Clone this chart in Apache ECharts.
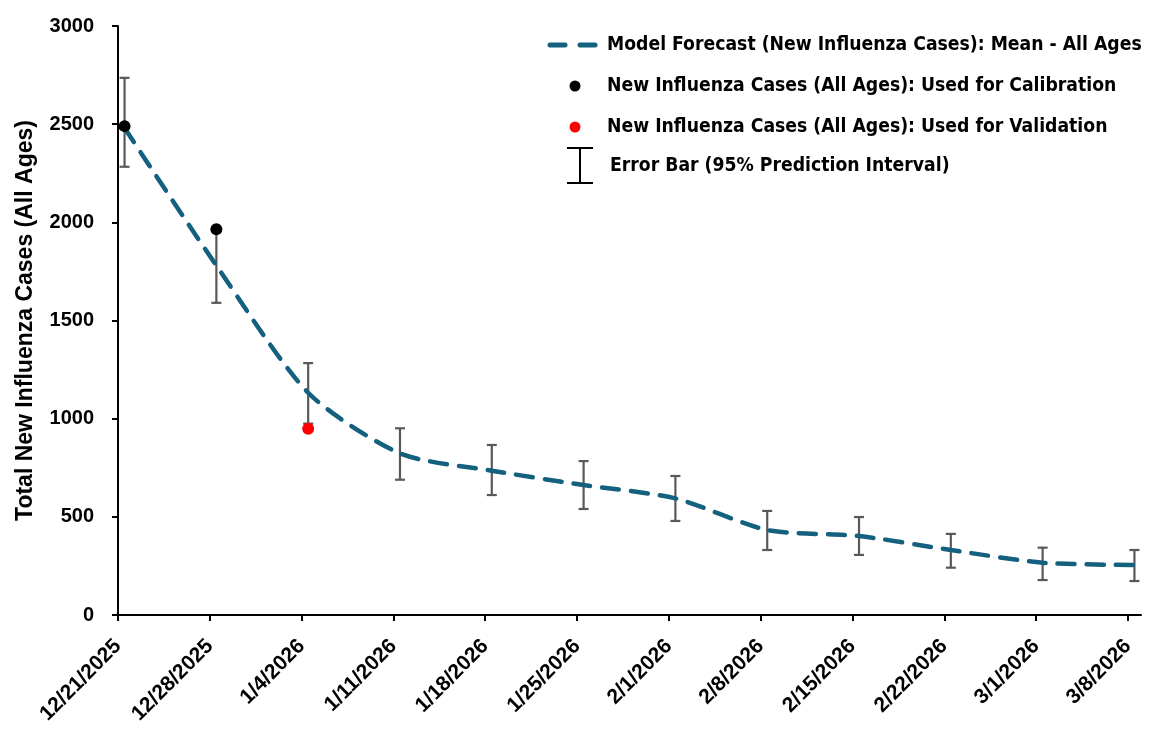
<!DOCTYPE html>
<html>
<head>
<meta charset="utf-8">
<script src="https://cdn.jsdelivr.net/npm/echarts@6/dist/echarts.min.js"></script>
<style>
html,body{margin:0;padding:0;background:#fff;}
#chart{width:1167px;height:736px;}
</style>
</head>
<body>
<div id="chart"></div>
<script>
// ---- data ----
var weekLabels = ['12/21/2025','12/28/2025','1/4/2026','1/11/2026','1/18/2026','1/25/2026','2/1/2026','2/8/2026','2/15/2026','2/22/2026','3/1/2026','3/8/2026'];
var meanForecast = [2480, 1780, 1132, 823, 735, 662, 594, 433, 402, 331, 266, 255];
var upperPI      = [2736, 1960, 1283, 951, 866, 784, 708, 530, 499, 413, 343, 331];
var lowerPI      = [2283, 1590, 975, 689, 611, 540, 479, 331, 306, 241, 178, 173];
var calibrationIdx = [0, 1];
var calibrationVals = [2490, 1965];
var validationIdx = [2];
var validationVals = [949];
var yTicks = [0, 500, 1000, 1500, 2000, 2500, 3000];

// day positions: weekly dates, each point centred in its day slot
var DAYS_PER_WEEK = 7, SLOT_CENTER = 0.5;
function dayPos(i){ return i * DAYS_PER_WEEK + SLOT_CENTER; }
var tickDays = weekLabels.map(function(_, i){ return i * DAYS_PER_WEEK; });

var meanData = meanForecast.map(function(v, i){ return [dayPos(i), v]; });
var errData = upperPI.map(function(v, i){ return [dayPos(i), lowerPI[i], v]; });
var calData = calibrationVals.map(function(v, k){ return [dayPos(calibrationIdx[k]), v]; });
var valData = validationVals.map(function(v, k){ return [dayPos(validationIdx[k]), v]; });

var LINE_COLOR = '#14607f';
var ERR_COLOR = '#595959';
var FONT = '"Liberation Sans", Arial, sans-serif';
var LEG_FONT = '"DejaVu Sans Condensed", "DejaVu Sans", sans-serif';

var chart = echarts.init(document.getElementById('chart'), null, {renderer: 'canvas'});

var legX = 607;
var legendItems = [
  {y: 45, text: 'Model Forecast (New Influenza Cases): Mean - All Ages'},
  {y: 86, text: 'New Influenza Cases (All Ages): Used for Calibration'},
  {y: 127, text: 'New Influenza Cases (All Ages): Used for Validation'},
  {y: 166, text: 'Error Bar (95% Prediction Interval)', x: 610}
];
var graphics = legendItems.map(function(it){
  return {type: 'text', x: it.x || legX, y: it.y, scaleX: 0.96,
    style: {text: it.text, font: 'bold 20px ' + LEG_FONT, fill: '#000', verticalAlign: 'middle', align: 'left'}};
});
graphics.push({type:'line', shape:{x1:550,y1:45,x2:565,y2:45}, style:{stroke:LINE_COLOR,lineWidth:5,lineCap:'round'}});
graphics.push({type:'line', shape:{x1:580,y1:45,x2:595,y2:45}, style:{stroke:LINE_COLOR,lineWidth:5,lineCap:'round'}});
graphics.push({type:'circle', shape:{cx:575,cy:86,r:5.5}, style:{fill:'#000'}});
graphics.push({type:'circle', shape:{cx:575,cy:127,r:5.5}, style:{fill:'#ff0000'}});
graphics.push({type:'line', shape:{x1:580,y1:148,x2:580,y2:183}, style:{stroke:'#000',lineWidth:2}});
graphics.push({type:'line', shape:{x1:567,y1:148,x2:593,y2:148}, style:{stroke:'#000',lineWidth:2}});
graphics.push({type:'line', shape:{x1:567,y1:183,x2:593,y2:183}, style:{stroke:'#000',lineWidth:2}});

var option = {
  backgroundColor: '#fff',
  animation: false,
  grid: {left: 118, right: 26, top: 26, bottom: 121, containLabel: false},
  graphic: graphics,
  xAxis: {
    type: 'value', min: 0, max: 78,
    axisLine: {show: true, lineStyle: {color: '#000', width: 2}},
    axisTick: {show: true, length: 6, lineStyle: {color: '#000', width: 2}, customValues: tickDays},
    axisLabel: {
      customValues: tickDays, rotate: 45, margin: 28,
      color: '#000', fontWeight: 'bold', fontSize: 21, fontFamily: FONT,
      formatter: function(v){ var i = Math.round(v / DAYS_PER_WEEK); return weekLabels[i] || ''; }
    },
    splitLine: {show: false}
  },
  yAxis: {
    type: 'value', min: 0, max: 3000, interval: 500,
    name: 'Total New Influenza Cases (All Ages)', nameLocation: 'middle', nameGap: 81,
    nameTextStyle: {color: '#000', fontWeight: 'bold', fontSize: 23, fontFamily: FONT},
    axisLine: {show: true, lineStyle: {color: '#000', width: 2}},
    axisTick: {show: true, length: 6, lineStyle: {color: '#000', width: 2}},
    axisLabel: {color: '#000', fontWeight: 'bold', fontSize: 20, fontFamily: FONT, margin: 24,
      formatter: function(v){ return yTicks.indexOf(v) >= 0 ? String(v) : ''; }},
    splitLine: {show: false}
  },
  series: [
    {
      type: 'custom', name: 'Error Bar (95% Prediction Interval)', z: 2,
      data: errData,
      renderItem: function(params, api){
        var x = api.value(0);
        var lo = api.coord([x, api.value(1)]);
        var hi = api.coord([x, api.value(2)]);
        var hw = 5;
        var st = {stroke: ERR_COLOR, lineWidth: 2.2, fill: null};
        return {type: 'group', children: [
          {type: 'line', shape: {x1: lo[0], y1: lo[1], x2: hi[0], y2: hi[1]}, style: st},
          {type: 'line', shape: {x1: hi[0]-hw, y1: hi[1], x2: hi[0]+hw, y2: hi[1]}, style: st},
          {type: 'line', shape: {x1: lo[0]-hw, y1: lo[1], x2: lo[0]+hw, y2: lo[1]}, style: st}
        ]};
      }
    },
    {
      type: 'line', name: 'Model Forecast (New Influenza Cases): Mean - All Ages', z: 3,
      data: meanData, smooth: 0.25, showSymbol: false, symbol: 'none',
      lineStyle: {color: LINE_COLOR, width: 4.5, type: [17, 12], cap: 'round'}
    },
    {
      type: 'scatter', name: 'New Influenza Cases (All Ages): Used for Calibration', z: 4,
      data: calData, symbol: 'circle', symbolSize: 12, itemStyle: {color: '#000', opacity: 1}
    },
    {
      type: 'scatter', name: 'New Influenza Cases (All Ages): Used for Validation', z: 4,
      data: valData, symbol: 'circle', symbolSize: 12, itemStyle: {color: '#ff0000', opacity: 1}
    }
  ]
};
chart.setOption(option);
</script>
</body>
</html>
